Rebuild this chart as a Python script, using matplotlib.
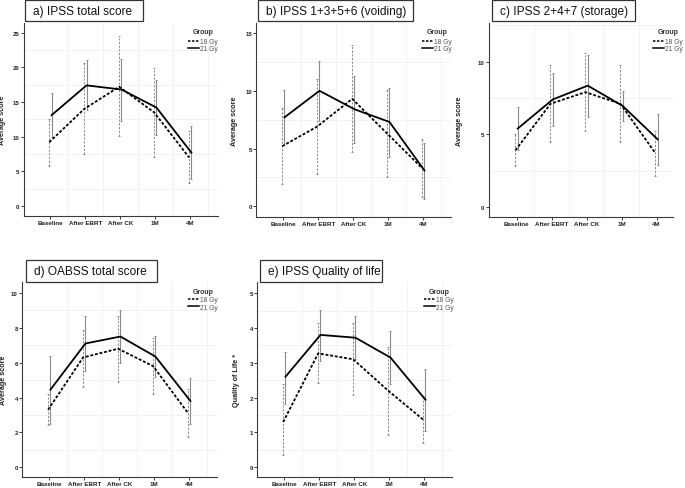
import matplotlib
matplotlib.use('Agg')
import matplotlib.pyplot as plt
import numpy as np
from matplotlib.patches import Rectangle
from matplotlib.lines import Line2D
from matplotlib import font_manager

plt.rcParams['font.family'] = ['Liberation Sans', 'DejaVu Sans']

# ---------------- data ----------------
categories = ['Baseline', 'After EBRT', 'After CK', '1M', '4M']
groups = ['18 Gy', '21 Gy']

# a) IPSS total score
a_18_mean = [9.2, 14.0, 17.2, 13.5, 7.0]
a_18_lo = [5.8, 7.5, 10.1, 7.1, 3.3]
a_18_hi = [12.5, 20.6, 24.5, 19.9, 10.8]
a_21_mean = [13.1, 17.4, 16.8, 14.2, 7.7]
a_21_lo = [9.9, 13.8, 12.3, 10.3, 3.9]
a_21_hi = [16.3, 21.1, 21.2, 18.2, 11.5]

# b) IPSS 1+3+5+6 (voiding)
b_18_mean = [5.2, 6.9, 9.3, 6.3, 3.3]
b_18_lo = [1.9, 2.8, 4.7, 2.5, 0.8]
b_18_hi = [8.5, 11.0, 14.0, 10.1, 5.8]
b_21_mean = [7.7, 10.0, 8.4, 7.3, 3.1]
b_21_lo = [5.3, 7.4, 5.5, 4.3, 0.6]
b_21_hi = [10.1, 12.6, 11.3, 10.2, 5.5]

# c) IPSS 2+4+7 (storage)
c_18_mean = [3.9, 7.1, 7.9, 7.1, 3.7]
c_18_lo = [2.8, 4.5, 5.2, 4.5, 2.1]
c_18_hi = [5.0, 9.8, 10.6, 9.8, 5.2]
c_21_mean = [5.4, 7.4, 8.35, 6.95, 4.65]
c_21_lo = [3.9, 5.6, 6.2, 5.9, 2.9]
c_21_hi = [6.9, 9.25, 10.45, 8.0, 6.4]

# d) OABSS total score
d_18_mean = [3.3, 6.3, 6.8, 5.8, 3.1]
d_18_lo = [2.4, 4.6, 4.9, 4.2, 1.75]
d_18_hi = [4.2, 7.9, 8.7, 7.4, 4.5]
d_21_mean = [4.45, 7.1, 7.5, 6.35, 3.8]
d_21_lo = [2.5, 5.5, 6.0, 5.2, 2.5]
d_21_hi = [6.4, 8.65, 9.0, 7.55, 5.1]

# e) IPSS Quality of life
e_18_mean = [1.3, 3.27, 3.1, 2.2, 1.37]
e_18_lo = [0.36, 2.42, 2.08, 0.92, 0.7]
e_18_hi = [2.38, 4.13, 4.13, 3.46, 2.06]
e_21_mean = [2.6, 3.8, 3.72, 3.15, 1.94]
e_21_lo = [1.83, 3.06, 3.12, 2.38, 1.05]
e_21_hi = [3.32, 4.51, 4.33, 3.92, 2.82]

titles = ['a) IPSS total score', 'b) IPSS 1+3+5+6 (voiding)',
          'c) IPSS 2+4+7 (storage)', 'd) OABSS total score',
          'e) IPSS Quality of life']
ylabels = ['Average score', 'Average score', 'Average score',
           'Average score', 'Quality of Life *']
yticks_list = [[0, 5, 10, 15, 20, 25], [0, 5, 10, 15], [0, 5, 10],
               [0, 2, 4, 6, 8, 10], [0, 1, 2, 3, 4, 5]]

series = [
    (a_18_mean, a_18_lo, a_18_hi, a_21_mean, a_21_lo, a_21_hi),
    (b_18_mean, b_18_lo, b_18_hi, b_21_mean, b_21_lo, b_21_hi),
    (c_18_mean, c_18_lo, c_18_hi, c_21_mean, c_21_lo, c_21_hi),
    (d_18_mean, d_18_lo, d_18_hi, d_21_mean, d_21_lo, d_21_hi),
    (e_18_mean, e_18_lo, e_18_hi, e_21_mean, e_21_lo, e_21_hi),
]

# narrow font for tick labels if available
_names = {f.name for f in font_manager.fontManager.ttflist}
if 'Liberation Sans Narrow' in _names:
    TICKFAM = ['Liberation Sans Narrow', 'DejaVu Sans']
    XT_SIZE, YT_SIZE = 5.3, 5.0
else:
    TICKFAM = ['Liberation Sans', 'DejaVu Sans']
    XT_SIZE, YT_SIZE = 4.5, 4.4

# ---------------- layout (pixels) ----------------
W, H = 685, 489
fig = plt.figure(figsize=(W / 100, H / 100), dpi=100)
fig.patch.set_facecolor('white')

axes_px = [(23.5, 24, 217.5, 217), (256.4, 24, 450.6, 218), (489, 24, 673, 218),
           (22.3, 283.3, 216.6, 477.7), (257.4, 283.3, 451.6, 477.7)]
xlims = [(-0.77, 4.78), (-0.77, 4.78), (-0.79, 4.47), (-0.77, 4.78), (-0.77, 4.78)]
ylims = [(-1.45, 26.4), (-0.93, 15.87), (-0.69, 12.66), (-0.54, 10.61), (-0.27, 5.31)]
boxes_px = [(25, 1, 143, 22), (258, 1, 413, 22), (491.7, 1, 635, 22),
            (26, 261, 157, 283), (260, 261, 381.7, 283)]
ylabel_px = [6.5, 238, 462.7, 6.5, 240]
# (handle left x, Group centre y, top of first legend row y)
legend_px = [(188, 33, 39), (422, 33, 39), (653, 33, 39.5),
             (188, 293, 297.5), (424, 293, 297.5)]

GREY = '#8a8a8a'
SPINE = '#3a3a3a'
off = 0.033
LEG_FS = 4.8

for i in range(5):
    l, t, r, b = axes_px[i]
    aw, ah = r - l, b - t
    ax = fig.add_axes([l / W, 1 - b / H, aw / W, ah / H])
    m18, lo18, hi18, m21, lo21, hi21 = [np.array(v) for v in series[i]]
    x = np.arange(len(categories))

    ax.set_xlim(*xlims[i])
    ax.set_ylim(*ylims[i])

    # faint grid at half steps
    yt = yticks_list[i]
    step = yt[1] - yt[0]
    for g in np.arange(step / 2, ylims[i][1], step):
        ax.axhline(g, color='#ededed', lw=0.5, zorder=0)
    for g in np.arange(0.5, xlims[i][1], 1.0):
        ax.axvline(g, color='#ededed', lw=0.5, zorder=0)

    # error bars
    e1 = ax.errorbar(x - off, m18, yerr=[m18 - lo18, hi18 - m18], fmt='none',
                     ecolor=GREY, elinewidth=0.7, capsize=0.9, capthick=0.7, zorder=2)
    e1[2][0].set_linestyle((0, (2.2, 1.6)))
    ax.errorbar(x + off, m21, yerr=[m21 - lo21, hi21 - m21], fmt='none',
                ecolor=GREY, elinewidth=0.8, capsize=0.9, capthick=0.7, zorder=2)

    # mean lines
    ax.plot(x - off, m18, color='black', lw=1.3, ls=(0, (1.6, 1.0)), zorder=3)
    ax.plot(x + off, m21, color='black', lw=1.3, ls='-', zorder=3)

    # axes styling
    for s in ['top', 'right']:
        ax.spines[s].set_visible(False)
    for s in ['left', 'bottom']:
        ax.spines[s].set_color(SPINE)
        ax.spines[s].set_linewidth(0.8)
    ax.set_xticks(x)
    ax.set_xticklabels(categories, fontweight='bold', fontsize=XT_SIZE,
                       color='#222222', family=TICKFAM)
    ax.set_yticks(yt)
    ax.set_yticklabels([str(v) for v in yt], fontweight='bold', fontsize=YT_SIZE,
                       color='#222222', family=TICKFAM)
    ax.tick_params(axis='both', direction='out', length=2.2, width=0.7, color=SPINE, pad=1.0)
    ax.set_ylabel(ylabels[i], fontweight='bold', fontsize=5.2, color='#222222')
    ax.yaxis.set_label_coords((ylabel_px[i] - l) / aw, 0.5)

    # legend
    lx, gy, ey = legend_px[i]
    handles = [Line2D([], [], color='black', lw=1.1, ls=(0, (1.6, 1.0))),
               Line2D([], [], color='black', lw=1.1)]
    leg = ax.legend(handles, groups, loc='upper left',
                    bbox_to_anchor=((lx - l) / aw, 1 - (ey - t) / ah),
                    frameon=False, fontsize=LEG_FS, borderaxespad=0, borderpad=0,
                    handlelength=1.65, handletextpad=0.15, labelspacing=0.0)
    for txt in leg.get_texts():
        txt.set_color('#555555')
    ax.text((lx + 15.5 - l) / aw, 1 - (gy - t) / ah, 'Group',
            transform=ax.transAxes, ha='center', va='center', fontsize=5.0,
            fontweight='bold', color='#333333')

    # title box
    bl, bt, br, bb = boxes_px[i]
    fig.patches.append(Rectangle((bl / W, 1 - bb / H), (br - bl) / W, (bb - bt) / H,
                                 transform=fig.transFigure, fill=False,
                                 edgecolor='#333333', lw=0.9))
    fig.text((bl + 8) / W, 1 - ((bt + bb) / 2 + 0.5) / H, titles[i],
             fontsize=8.6, ha='left', va='center', color='#111111')

fig.savefig('out.png', dpi=100, facecolor='white')
